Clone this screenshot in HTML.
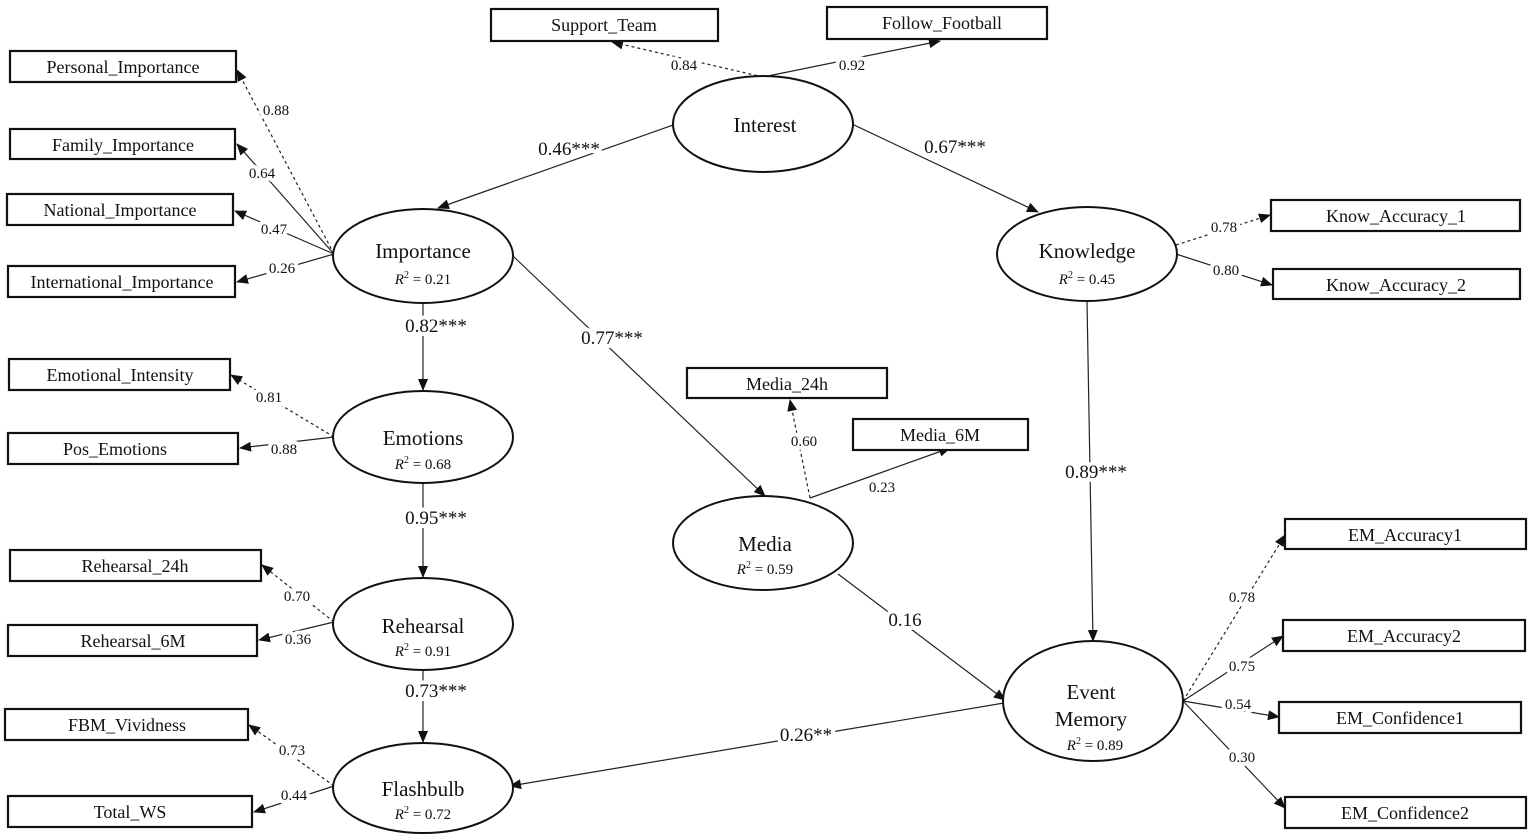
<!DOCTYPE html>
<html><head><meta charset="utf-8"><style>
html,body{margin:0;padding:0;background:#fff;}
svg{display:block;}
text{font-family:"Liberation Serif",serif;fill:#111;}
.box{fill:#fff;stroke:#111;stroke-width:2.2;}
.ell{fill:#fff;stroke:#111;stroke-width:2;}
.ln{stroke:#222;stroke-width:1.2;fill:none;}
.dl{stroke:#222;stroke-width:1.2;fill:none;stroke-dasharray:3,3;}
.lab{paint-order:stroke;stroke:#fff;stroke-width:8px;stroke-linejoin:round;}
</style></head><body>
<svg width="1535" height="834" viewBox="0 0 1535 834" xmlns="http://www.w3.org/2000/svg">
<defs><marker id="a" markerWidth="12" markerHeight="10" refX="11" refY="5" orient="auto" markerUnits="userSpaceOnUse"><path d="M0,0 L12,5 L0,10 z" fill="#111"/></marker></defs>

<!-- connectors -->
<g>
<line class="dl" x1="763" y1="77" x2="612" y2="42" marker-end="url(#a)"/>
<line class="ln" x1="763" y1="77" x2="940" y2="41" marker-end="url(#a)"/>
<line class="ln" x1="676" y1="124" x2="438" y2="208" marker-end="url(#a)"/>
<line class="ln" x1="852" y1="124" x2="1038" y2="212" marker-end="url(#a)"/>
<line class="dl" x1="334" y1="254" x2="237" y2="70" marker-end="url(#a)"/>
<line class="ln" x1="334" y1="254" x2="237" y2="144" marker-end="url(#a)"/>
<line class="ln" x1="334" y1="254" x2="235" y2="211" marker-end="url(#a)"/>
<line class="ln" x1="334" y1="254" x2="237" y2="282" marker-end="url(#a)"/>
<line class="ln" x1="423" y1="303" x2="423" y2="390" marker-end="url(#a)"/>
<line class="ln" x1="513" y1="256" x2="765" y2="496" marker-end="url(#a)"/>
<line class="dl" x1="334" y1="437" x2="231" y2="375" marker-end="url(#a)"/>
<line class="ln" x1="334" y1="437" x2="240" y2="448" marker-end="url(#a)"/>
<line class="ln" x1="423" y1="483" x2="423" y2="577" marker-end="url(#a)"/>
<line class="dl" x1="334" y1="622" x2="262" y2="565" marker-end="url(#a)"/>
<line class="ln" x1="334" y1="622" x2="259" y2="640" marker-end="url(#a)"/>
<line class="ln" x1="423" y1="670" x2="423" y2="742" marker-end="url(#a)"/>
<line class="dl" x1="334" y1="786" x2="249" y2="725" marker-end="url(#a)"/>
<line class="ln" x1="334" y1="786" x2="254" y2="812" marker-end="url(#a)"/>
<line class="dl" x1="810" y1="498" x2="790" y2="400" marker-end="url(#a)"/>
<line class="ln" x1="810" y1="498" x2="950" y2="448" marker-end="url(#a)"/>
<line class="ln" x1="838" y1="574" x2="1005" y2="700" marker-end="url(#a)"/>
<line class="ln" x1="1087" y1="301" x2="1093" y2="641" marker-end="url(#a)"/>
<line class="ln" x1="1004" y1="703" x2="510" y2="786" marker-end="url(#a)"/>
<line class="dl" x1="1176" y1="245" x2="1270" y2="215" marker-end="url(#a)"/>
<line class="ln" x1="1176" y1="254" x2="1272" y2="285" marker-end="url(#a)"/>
<line class="dl" x1="1183" y1="701" x2="1285" y2="535" marker-end="url(#a)"/>
<line class="ln" x1="1183" y1="701" x2="1283" y2="636" marker-end="url(#a)"/>
<line class="ln" x1="1183" y1="701" x2="1279" y2="717" marker-end="url(#a)"/>
<line class="ln" x1="1183" y1="701" x2="1285" y2="808" marker-end="url(#a)"/>
</g>

<!-- boxes -->
<g font-size="18" text-anchor="middle">
<rect class="box" x="491" y="9" width="227" height="32"/><text x="604" y="31">Support_Team</text>
<rect class="box" x="827" y="7" width="220" height="32"/><text x="942" y="29">Follow_Football</text>
<rect class="box" x="10" y="51" width="226" height="31"/><text x="123" y="73">Personal_Importance</text>
<rect class="box" x="10" y="129" width="225" height="30"/><text x="123" y="151">Family_Importance</text>
<rect class="box" x="7" y="194" width="226" height="31"/><text x="120" y="216">National_Importance</text>
<rect class="box" x="8" y="266" width="227" height="31"/><text x="122" y="288">International_Importance</text>
<rect class="box" x="9" y="359" width="221" height="31"/><text x="120" y="381">Emotional_Intensity</text>
<rect class="box" x="8" y="433" width="230" height="31"/><text x="115" y="455">Pos_Emotions</text>
<rect class="box" x="10" y="550" width="251" height="31"/><text x="135" y="572">Rehearsal_24h</text>
<rect class="box" x="8" y="625" width="249" height="31"/><text x="133" y="647">Rehearsal_6M</text>
<rect class="box" x="5" y="709" width="243" height="31"/><text x="127" y="731">FBM_Vividness</text>
<rect class="box" x="8" y="796" width="244" height="31"/><text x="130" y="818">Total_WS</text>
<rect class="box" x="1271" y="200" width="249" height="31"/><text x="1396" y="222">Know_Accuracy_1</text>
<rect class="box" x="1273" y="269" width="247" height="30"/><text x="1396" y="291">Know_Accuracy_2</text>
<rect class="box" x="687" y="368" width="200" height="30"/><text x="787" y="390">Media_24h</text>
<rect class="box" x="853" y="419" width="175" height="31"/><text x="940" y="441">Media_6M</text>
<rect class="box" x="1285" y="519" width="241" height="30"/><text x="1405" y="541">EM_Accuracy1</text>
<rect class="box" x="1283" y="620" width="242" height="31"/><text x="1404" y="642">EM_Accuracy2</text>
<rect class="box" x="1279" y="702" width="242" height="31"/><text x="1400" y="724">EM_Confidence1</text>
<rect class="box" x="1285" y="797" width="241" height="31"/><text x="1405" y="819">EM_Confidence2</text>
</g>

<!-- ellipses -->
<g text-anchor="middle">
<ellipse class="ell" cx="763" cy="124" rx="90" ry="48"/><text x="765" y="132" font-size="21">Interest</text>
<ellipse class="ell" cx="423" cy="256" rx="90" ry="47"/><text x="423" y="258" font-size="21">Importance</text><text x="423" y="284" font-size="15"><tspan font-style="italic">R</tspan><tspan font-size="10" dy="-6">2</tspan><tspan dy="6"> = 0.21</tspan></text>
<ellipse class="ell" cx="1087" cy="254" rx="90" ry="47"/><text x="1087" y="258" font-size="21">Knowledge</text><text x="1087" y="284" font-size="15"><tspan font-style="italic">R</tspan><tspan font-size="10" dy="-6">2</tspan><tspan dy="6"> = 0.45</tspan></text>
<ellipse class="ell" cx="423" cy="437" rx="90" ry="46"/><text x="423" y="445" font-size="21">Emotions</text><text x="423" y="469" font-size="15"><tspan font-style="italic">R</tspan><tspan font-size="10" dy="-6">2</tspan><tspan dy="6"> = 0.68</tspan></text>
<ellipse class="ell" cx="423" cy="624" rx="90" ry="46"/><text x="423" y="633" font-size="21">Rehearsal</text><text x="423" y="656" font-size="15"><tspan font-style="italic">R</tspan><tspan font-size="10" dy="-6">2</tspan><tspan dy="6"> = 0.91</tspan></text>
<ellipse class="ell" cx="423" cy="788" rx="90" ry="45"/><text x="423" y="796" font-size="21">Flashbulb</text><text x="423" y="819" font-size="15"><tspan font-style="italic">R</tspan><tspan font-size="10" dy="-6">2</tspan><tspan dy="6"> = 0.72</tspan></text>
<ellipse class="ell" cx="763" cy="543" rx="90" ry="47"/><text x="765" y="551" font-size="21">Media</text><text x="765" y="574" font-size="15"><tspan font-style="italic">R</tspan><tspan font-size="10" dy="-6">2</tspan><tspan dy="6"> = 0.59</tspan></text>
<ellipse class="ell" cx="1093" cy="701" rx="90" ry="60"/><text x="1091" y="699" font-size="21">Event</text><text x="1091" y="726" font-size="21">Memory</text><text x="1095" y="750" font-size="15"><tspan font-style="italic">R</tspan><tspan font-size="10" dy="-6">2</tspan><tspan dy="6"> = 0.89</tspan></text>
</g>

<!-- labels -->
<g class="lab" text-anchor="middle">
<text x="684" y="70" font-size="15">0.84</text>
<text x="852" y="70" font-size="15">0.92</text>
<text x="569" y="155" font-size="19">0.46***</text>
<text x="955" y="153" font-size="19">0.67***</text>
<text x="276" y="115" font-size="15">0.88</text>
<text x="262" y="178" font-size="15">0.64</text>
<text x="274" y="234" font-size="15">0.47</text>
<text x="282" y="273" font-size="15">0.26</text>
<text x="436" y="332" font-size="19">0.82***</text>
<text x="612" y="344" font-size="19">0.77***</text>
<text x="269" y="402" font-size="15">0.81</text>
<text x="284" y="454" font-size="15">0.88</text>
<text x="436" y="524" font-size="19">0.95***</text>
<text x="297" y="601" font-size="15">0.70</text>
<text x="298" y="644" font-size="15">0.36</text>
<text x="436" y="697" font-size="19">0.73***</text>
<text x="292" y="755" font-size="15">0.73</text>
<text x="294" y="800" font-size="15">0.44</text>
<text x="804" y="446" font-size="15">0.60</text>
<text x="882" y="492" font-size="15">0.23</text>
<text x="905" y="626" font-size="19">0.16</text>
<text x="1096" y="478" font-size="19">0.89***</text>
<text x="806" y="741" font-size="19">0.26**</text>
<text x="1224" y="232" font-size="15">0.78</text>
<text x="1226" y="275" font-size="15">0.80</text>
<text x="1242" y="602" font-size="15">0.78</text>
<text x="1242" y="671" font-size="15">0.75</text>
<text x="1238" y="709" font-size="15">0.54</text>
<text x="1242" y="762" font-size="15">0.30</text>
</g>
</svg>
</body></html>
